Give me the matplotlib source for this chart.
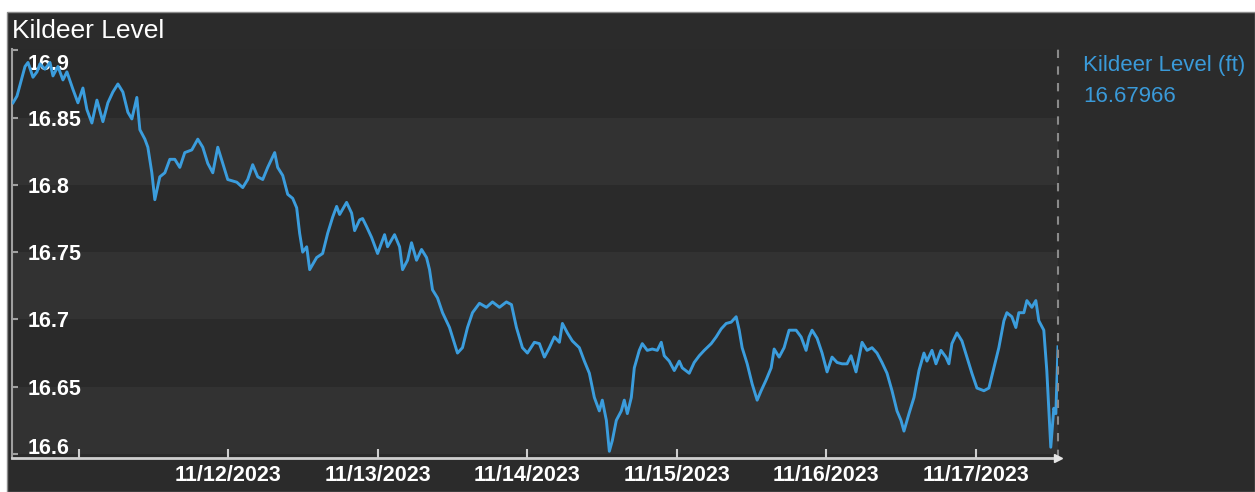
import matplotlib
matplotlib.use("Agg")
import matplotlib.pyplot as plt
from matplotlib.patches import Rectangle
from matplotlib.transforms import ScaledTranslation
import pandas as pd

plt.rcParams['font.family'] = ['Liberation Sans', 'DejaVu Sans']

# ---------------- data ----------------
title = "Kildeer Level"
series_name = "Kildeer Level (ft)"
start_time = "2023-11-10 13:15"
window_hours = 168

hours = [0.16, 0.80, 2.09, 2.57, 3.37, 4.01, 4.49, 5.29, 6.10, 6.58, 7.38, 8.18, 8.82, 9.79,
         10.59, 11.39, 12.03, 12.83, 13.64, 14.60, 15.40, 16.20, 17.01, 17.81, 18.61, 19.25,
         20.05, 20.54, 21.34, 21.82, 22.46, 22.94, 23.74, 24.55, 25.35, 26.15, 26.95, 27.75,
         28.88, 29.84, 30.64, 31.44, 32.25, 33.05, 33.85, 34.65, 36.10, 37.06, 37.86, 38.66,
         39.47, 40.27, 41.07, 42.19, 42.67, 43.48, 44.28, 45.08, 45.72, 46.20, 46.69, 47.33,
         47.81, 48.93, 49.89, 50.70, 51.50, 52.14, 52.62, 53.74, 54.55, 55.03, 55.83, 56.31,
         56.95, 57.75, 58.72, 59.84, 60.32, 61.44, 62.25, 62.73, 63.53, 64.17, 64.97, 65.78,
         66.58, 67.06, 67.54, 68.34, 69.15, 70.27, 71.07, 71.55, 72.35, 73.16, 73.96, 75.08,
         76.20, 77.17, 78.29, 79.41, 80.22, 81.02, 81.98, 82.78, 83.90, 84.71, 85.51, 86.31,
         87.11, 87.92, 88.40, 89.20, 90.00, 91.12, 91.93, 92.73, 93.53, 94.33, 94.81, 95.46,
         95.94, 96.42, 97.06, 97.86, 98.34, 98.83, 99.47, 99.95, 100.75, 101.23, 102.03,
         102.84, 103.64, 104.28, 104.76, 105.56, 106.37, 107.17, 107.65, 108.77, 109.57,
         110.38, 111.18, 112.30, 113.10, 113.91, 114.71, 115.51, 116.31, 116.80, 117.27,
         118.08, 118.88, 119.68, 120.32, 121.12, 121.93, 122.41, 123.21, 124.01, 124.81,
         125.94, 126.74, 127.54, 128.02, 128.50, 129.31, 130.11, 130.91, 131.71, 132.52,
         133.32, 134.12, 134.76, 135.56, 136.53, 137.33, 138.13, 138.93, 139.73, 140.54,
         141.34, 142.14, 142.78, 143.26, 144.07, 144.87, 145.67, 146.47, 146.95, 147.76,
         148.40, 149.20, 150.00, 150.48, 150.96, 151.77, 152.57, 153.37, 154.17, 154.98,
         156.10, 156.90, 157.70, 158.50, 159.31, 159.79, 160.59, 161.23, 161.71, 162.52,
         163.00, 163.80, 164.44, 164.92, 165.72, 166.20, 166.84, 167.33, 167.65, 168.00]

levels = [16.861, 16.866, 16.888, 16.891, 16.880, 16.884, 16.890, 16.886, 16.891, 16.881, 16.888,
          16.878, 16.884, 16.871, 16.861, 16.872, 16.856, 16.846, 16.863, 16.847, 16.861, 16.869,
          16.875, 16.869, 16.854, 16.849, 16.865, 16.841, 16.834, 16.828, 16.809, 16.789, 16.806,
          16.809, 16.819, 16.819, 16.813, 16.824, 16.826, 16.834, 16.828, 16.816, 16.809, 16.828,
          16.816, 16.804, 16.802, 16.798, 16.804, 16.815, 16.806, 16.804, 16.813, 16.824, 16.813,
          16.807, 16.793, 16.790, 16.783, 16.764, 16.750, 16.754, 16.737, 16.746, 16.749, 16.764,
          16.776, 16.784, 16.778, 16.787, 16.779, 16.766, 16.774, 16.775, 16.769, 16.761, 16.749,
          16.763, 16.754, 16.763, 16.754, 16.737, 16.744, 16.757, 16.744, 16.752, 16.746, 16.737,
          16.722, 16.716, 16.705, 16.694, 16.682, 16.675, 16.679, 16.694, 16.705, 16.712, 16.709,
          16.713, 16.709, 16.713, 16.711, 16.694, 16.679, 16.675, 16.683, 16.682, 16.672, 16.679,
          16.687, 16.683, 16.697, 16.690, 16.684, 16.679, 16.669, 16.660, 16.642, 16.632, 16.640,
          16.625, 16.602, 16.610, 16.625, 16.632, 16.640, 16.630, 16.642, 16.664, 16.677, 16.682,
          16.677, 16.678, 16.677, 16.683, 16.673, 16.669, 16.662, 16.669, 16.664, 16.660, 16.668,
          16.673, 16.677, 16.682, 16.687, 16.693, 16.697, 16.698, 16.702, 16.692, 16.679, 16.667,
          16.652, 16.640, 16.647, 16.655, 16.664, 16.678, 16.672, 16.679, 16.692, 16.692, 16.687,
          16.677, 16.687, 16.692, 16.686, 16.675, 16.661, 16.672, 16.668, 16.667, 16.667, 16.673,
          16.661, 16.683, 16.677, 16.679, 16.675, 16.668, 16.660, 16.647, 16.632, 16.625, 16.617,
          16.630, 16.642, 16.662, 16.675, 16.669, 16.677, 16.667, 16.677, 16.672, 16.667, 16.682,
          16.690, 16.684, 16.672, 16.660, 16.649, 16.647, 16.649, 16.664, 16.679, 16.699, 16.705,
          16.702, 16.694, 16.705, 16.705, 16.714, 16.709, 16.714, 16.699, 16.692, 16.662, 16.605,
          16.634, 16.630, 16.67966]

y_ticks = [16.6, 16.65, 16.7, 16.75, 16.8, 16.85, 16.9]
x_tick_dates = ["2023-11-11", "2023-11-12", "2023-11-13", "2023-11-14",
                "2023-11-15", "2023-11-16", "2023-11-17"]
x_tick_labels = ["", "11/12/2023", "11/13/2023", "11/14/2023",
                 "11/15/2023", "11/16/2023", "11/17/2023"]

# ---------------- figure ----------------
W, H = 1255, 492
fig = plt.figure(figsize=(W / 100, H / 100), dpi=100, facecolor="white")
fig.patches.append(Rectangle((7 / W, 0), (W - 7) / W, (H - 12) / H, transform=fig.transFigure,
                             facecolor="#2b2b2b", edgecolor="#8c8c8c", lw=1, zorder=-10))

ax = fig.add_axes([12 / W, 1 - 458 / H, (1058 - 12) / W, (458 - 49) / H])
ax.set_facecolor("#2a2a2a")

t0 = pd.Timestamp(start_time)
times = t0 + pd.to_timedelta(hours, unit="h")
t_end = t0 + pd.Timedelta(hours=window_hours)

for lo in y_ticks[:-1:2]:
    ax.axhspan(lo, lo + 0.05, color="#323232", lw=0, zorder=0)

ax.plot(times, levels, color="#3b9ddd", lw=2.1, zorder=3, solid_joinstyle="round")

ax.set_xlim(t0, t_end)
ax.set_ylim(16.597, 16.901)

for s in ("top", "right"):
    ax.spines[s].set_visible(False)
ax.spines["left"].set_color("#a0a0a0")
ax.spines["left"].set_linewidth(1.5)
ax.spines["bottom"].set_color("#cfcfcf")
ax.spines["bottom"].set_linewidth(2)

ax.axvline(t_end, color="#8a8a8a", lw=1.5, ls=(0, (4, 4)), clip_on=False, zorder=4)
ax.plot([1], [0], marker=">", transform=ax.transAxes, clip_on=False,
        color="#e6e6e6", ms=6, zorder=6)

ax.set_yticks(y_ticks)
ax.set_yticklabels([f"{v:g}" for v in y_ticks])
ax.tick_params(axis="y", direction="in", length=4, width=1.5, color="#a0a0a0",
               labelcolor="white", labelsize=15.5, pad=-11.5)
ylabels = ax.get_yticklabels()
for lab in ylabels:
    lab.set_ha("left")
    lab.set_fontweight("bold")
ylabels[0].set_va("baseline")
ylabels[-1].set_va("top")
ylabels[-1].set_transform(ylabels[-1].get_transform()
                          + ScaledTranslation(0, -4 / 100, fig.dpi_scale_trans))

ax.set_xticks(pd.to_datetime(x_tick_dates))
ax.set_xticklabels(x_tick_labels, fontweight="bold")
ax.tick_params(axis="x", direction="in", length=6.5, width=1.5, color="#cfcfcf",
               labelcolor="white", labelsize=15.5, pad=5)

fig.text(12 / W, 1 - 31 / H, title, color="white", fontsize=19, ha="left", va="center")
fig.text(1083 / W, 1 - 65 / H, series_name, color="#3a9ad9", fontsize=16, ha="left", va="center")
fig.text(1083 / W, 1 - 96 / H, f"{levels[-1]:.5f}", color="#3a9ad9", fontsize=16,
         ha="left", va="center")

fig.savefig("out.png", dpi=100, facecolor=fig.get_facecolor())
